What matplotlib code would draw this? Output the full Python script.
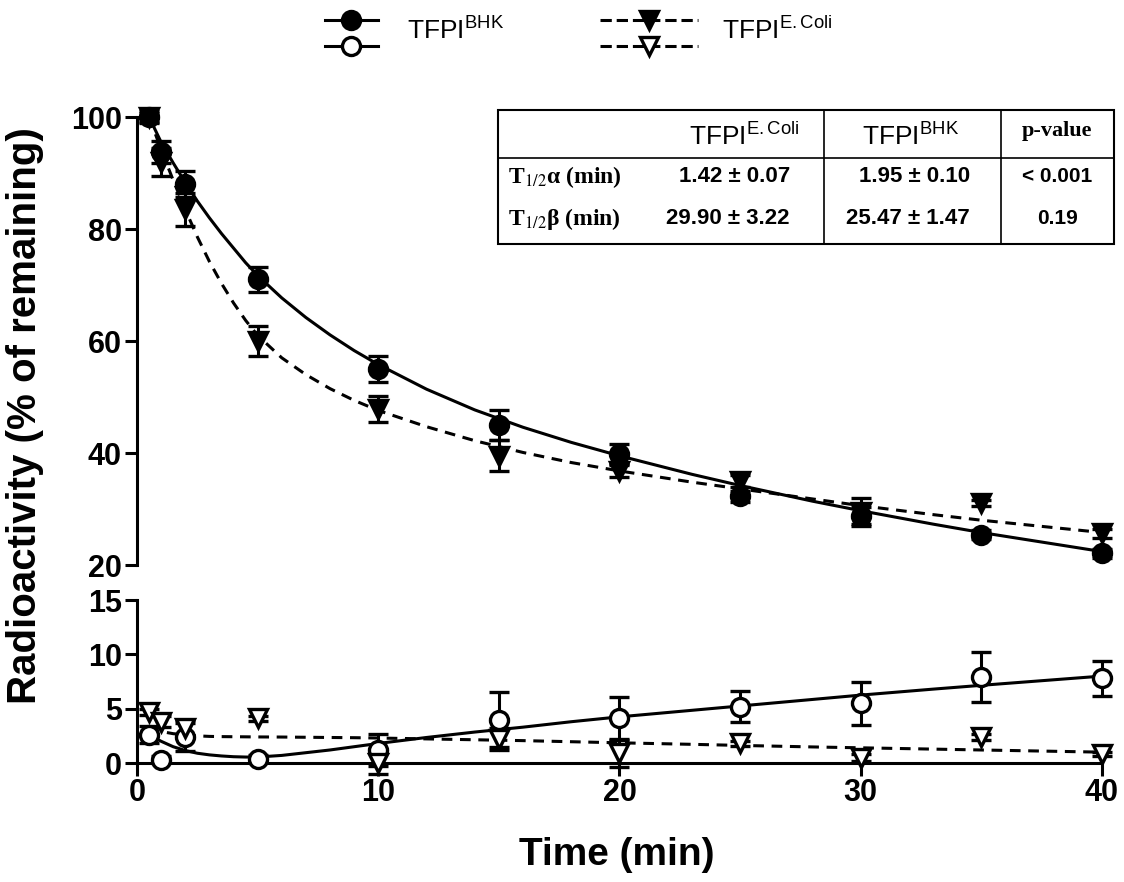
import numpy as np
import matplotlib
matplotlib.use("Agg")
import matplotlib.pyplot as plt
from matplotlib.lines import Line2D
from matplotlib.patches import Rectangle
from matplotlib.legend_handler import HandlerBase

plt.rcParams['font.family'] = ['Liberation Sans', 'DejaVu Sans']
plt.rcParams['mathtext.fontset'] = 'custom'
plt.rcParams['mathtext.rm'] = 'Liberation Sans'
plt.rcParams['mathtext.it'] = 'Liberation Sans:italic'
plt.rcParams['mathtext.bf'] = 'Liberation Sans:bold'

# sampling times (min)
t = [0.5, 1, 2, 5, 10, 15, 20, 25, 30, 35, 40]

# plasma radioactivity, upper panel (filled symbols)
bhk_mean = [100, 93.8, 88.0, 71.0, 55.0, 45.0, 39.8, 32.3, 28.8, 25.4, 22.1]
bhk_err = [0.8, 2.0, 2.3, 2.2, 2.3, 2.7, 1.8, 1.0, 1.5, 0.8, 0.8]
ecoli_mean = [100, 92.0, 83.5, 60.0, 47.8, 39.5, 36.8, 35.0, 29.5, 31.1, 25.7]
ecoli_err = [1.0, 2.5, 3.0, 2.7, 2.3, 2.8, 1.0, 1.0, 2.5, 0.5, 0.8]

# lower panel (open symbols)
bhk_low = [2.6, 0.3, 2.4, 0.4, 1.2, 4.0, 4.1, 5.2, 5.5, 7.9, 7.8]
bhk_low_err = [0.8, 0.3, 1.3, 0.3, 1.5, 2.5, 2.0, 1.4, 2.0, 2.3, 1.6]
ecoli_low = [4.7, 3.8, 3.2, 4.1, 0.0, 2.2, 0.9, 1.8, 0.5, 2.4, 0.8]
ecoli_low_err = [0.3, 0.5, 0.8, 0.2, 1.0, 1.0, 1.3, 0.2, 0.3, 0.3, 0.2]

# fitted curves
fit_t = [0.5, 1, 1.5, 2, 2.5, 3, 3.5, 4, 4.5, 5, 6, 7, 8, 9, 10, 12, 14, 16, 18,
         20, 23, 25, 28, 30, 33, 35, 40]
bhk_fit = [100, 95.5, 91.8, 88.3, 85.0, 82.0, 79.2, 76.6, 74.0, 71.7, 67.7, 64.2,
           61.1, 58.3, 55.8, 51.4, 47.7, 44.6, 41.9, 39.5, 36.2, 34.2, 31.4, 29.7,
           27.3, 25.8, 22.4]
ecoli_fit = [100, 94.2, 88.7, 83.5, 78.6, 74.2, 70.3, 66.8, 63.7, 61.0, 57.0, 54.0,
             51.5, 49.4, 47.6, 44.7, 42.2, 40.1, 38.3, 36.8, 34.8, 33.6, 31.8, 30.6,
             29.0, 28.0, 25.8]
bhk_low_fit = [2.6, 2.0, 1.5, 1.15, 0.9, 0.75, 0.65, 0.58, 0.55, 0.55, 0.7, 0.95,
               1.2, 1.5, 1.8, 2.35, 2.85, 3.3, 3.8, 4.25, 4.85, 5.25, 5.85, 6.25,
               6.8, 7.15, 8.0]
ecoli_low_fit = [3.2, 2.9, 2.7, 2.6, 2.5, 2.45, 2.43, 2.42, 2.41, 2.4, 2.39, 2.37,
                 2.35, 2.33, 2.3, 2.22, 2.14, 2.06, 1.96, 1.86, 1.72, 1.62, 1.48,
                 1.4, 1.28, 1.2, 1.0]

# inset table
table_cols = ['TFPI$^{\\mathrm{E.Coli}}$', 'TFPI$^{\\mathrm{BHK}}$', 'p-value']
table_rows = ['T$_{1/2}$\u03b1 (min)', 'T$_{1/2}$\u03b2 (min)']
table_ecoli = ['1.42 \u00b1 0.07', '29.90 \u00b1 3.22']
table_bhk = ['1.95 \u00b1 0.10', '25.47 \u00b1 1.47']
table_p = ['< 0.001', '0.19']

LW = 2.2
MS = 13
DASH = (0, (3.5, 2.5))


def draw_series(ax, y, err, fit, marker, filled, ls):
    ax.plot(fit_t, fit, color='black', lw=LW, ls=ls, zorder=2, clip_on=False)
    c = ax.errorbar(t, y, yerr=err, fmt=marker, ms=MS, color='black',
                    mfc='black' if filled else 'white', mec='black', mew=2.4,
                    elinewidth=LW, capsize=7, capthick=LW, zorder=3)
    for a in c.get_children():
        a.set_clip_on(False)


fig = plt.figure(figsize=(11.24, 8.82), dpi=100)
ax_top = fig.add_axes([0.1219, 0.3594, 0.8585, 0.5079])
ax_bot = fig.add_axes([0.1219, 0.1349, 0.8585, 0.1848])

draw_series(ax_top, bhk_mean, bhk_err, bhk_fit, 'o', True, '-')
draw_series(ax_top, ecoli_mean, ecoli_err, ecoli_fit, 'v', True, DASH)
draw_series(ax_bot, bhk_low, bhk_low_err, bhk_low_fit, 'o', False, '-')
draw_series(ax_bot, ecoli_low, ecoli_low_err, ecoli_low_fit, 'v', False, DASH)

ax_top.set_xlim(0, 40)
ax_top.set_ylim(20, 100)
ax_top.set_yticks([20, 40, 60, 80, 100])
ax_top.set_xticks([])
ax_bot.set_xlim(0, 40)
ax_bot.set_ylim(0, 15)
ax_bot.set_yticks([0, 5, 10, 15])
ax_bot.set_xticks([0, 10, 20, 30, 40])

for ax in (ax_top, ax_bot):
    for s in ('top', 'right'):
        ax.spines[s].set_visible(False)
    for s in ('left', 'bottom'):
        ax.spines[s].set_linewidth(LW)
    ax.tick_params(direction='out', length=9, width=LW, labelsize=22, pad=2)
    for lbl in ax.get_xticklabels() + ax.get_yticklabels():
        lbl.set_fontweight('bold')
ax_top.spines['bottom'].set_visible(False)

fig.text(0.022, 0.529, 'Radioactivity (% of remaining)', rotation=90,
         ha='center', va='center', fontsize=29, fontweight='bold')
fig.text(0.549, 0.031, 'Time (min)', ha='center', va='center',
         fontsize=28, fontweight='bold')


# legend with two stacked symbols per entry
class StackHandler(HandlerBase):
    def create_artists(self, legend, orig_handle, xd, yd, width, height, fontsize, trans):
        arts = []
        for h, yy in zip(orig_handle, (height * 1.05, -height * 0.35)):
            ln = Line2D([0, width], [yy, yy], color='black', lw=LW, ls=h.get_linestyle(),
                        transform=trans)
            mk = Line2D([width / 2], [yy], marker=h.get_marker(), ms=MS, color='black',
                        mfc=h.get_markerfacecolor(), mec='black', mew=2.4, ls='none',
                        transform=trans)
            arts += [ln, mk]
        return arts


h_bhk = (Line2D([], [], marker='o', ls='-', mfc='black'),
         Line2D([], [], marker='o', ls='-', mfc='white'))
h_eco = (Line2D([], [], marker='v', ls='--', mfc='black'),
         Line2D([], [], marker='v', ls='--', mfc='white'))
leg1 = fig.legend([h_bhk], ['TFPI$^{\\mathrm{BHK}}$'], handler_map={tuple: StackHandler()},
                  loc='center left', bbox_to_anchor=(0.289, 0.965), frameon=False,
                  fontsize=19, handlelength=2.0, handletextpad=1.1,
                  borderpad=0, borderaxespad=0)
leg2 = fig.legend([h_eco], ['TFPI$^{\\mathrm{E.Coli}}$'], handler_map={tuple: StackHandler()},
                  loc='center left', bbox_to_anchor=(0.534, 0.965), frameon=False,
                  fontsize=19, handlelength=3.7, handletextpad=0.9,
                  borderpad=0, borderaxespad=0)

# inset table
tax = fig.add_axes([0.443, 0.7234, 0.548, 0.1519])
tax.set_xlim(0, 1)
tax.set_ylim(0, 1)
tax.axis('off')
tax.add_patch(Rectangle((0, 0), 1, 1, fill=False, lw=1.5, clip_on=False))
for xv in (0.529, 0.817):
    tax.plot([xv, xv], [0, 1], color='black', lw=1.2)
tax.plot([0, 1], [0.642, 0.642], color='black', lw=1.2)

head_x = [0.40, 0.67, 0.908]
for x, s in zip(head_x[:2], table_cols[:2]):
    tax.text(x, 0.80, s, ha='center', va='center', fontsize=19)
tax.text(head_x[2], 0.84, table_cols[2], ha='center', va='center', fontsize=16,
         fontweight='bold', family='Liberation Serif')
row_y = [0.50, 0.19]
for i, y in enumerate(row_y):
    tax.text(0.016, y, table_rows[i], ha='left', va='center', fontsize=17,
             fontweight='bold', family='Liberation Serif', math_fontfamily='stix')
    tax.text(0.474, y, table_ecoli[i], ha='right', va='center', fontsize=16, fontweight='bold')
    tax.text(0.766, y, table_bhk[i], ha='right', va='center', fontsize=16, fontweight='bold')
    tax.text(head_x[2], y, table_p[i], ha='center', va='center', fontsize=15, fontweight='bold')

fig.savefig('out.png', dpi=100)
